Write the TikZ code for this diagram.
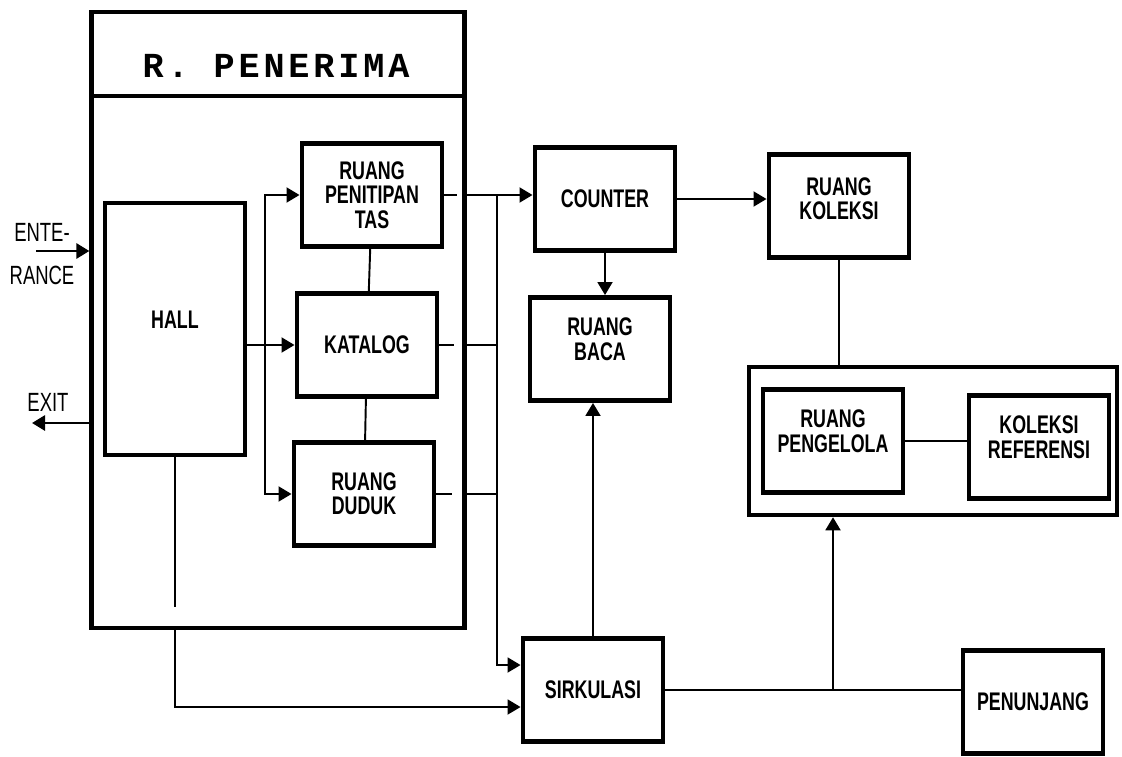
\documentclass[tikz,border=0pt]{standalone}
\usepackage{fontspec}
\usepackage{tikz}
\usetikzlibrary{arrows.meta, calc}

\newfontfamily\boxfont[FakeStretch=0.7]{Liberation Sans}
\newfontfamily\titlefont[LetterSpace=11]{Liberation Mono}

\begin{document}
\begin{tikzpicture}[
    x=0.2mm, y=-0.2mm,
    every node/.style={font=\boxfont\fontsize{15}{14}\selectfont},
    box/.style={rectangle, draw, line width=2.8pt, align=center, inner sep=0pt,
                minimum width=2.8cm, minimum height=2.06cm,
                font=\boxfont\bfseries\fontsize{14.5}{13.8}\selectfont},
    wall/.style={rectangle, draw, line width=2.4pt, minimum width=7.46cm, minimum height=12.32cm},
    link/.style={line width=1.1pt},
    arr/.style={line width=1.1pt, -{Triangle[length=0.26cm, width=0.3cm]}},
    gate/.style={line width=1.6pt, -{Triangle[length=0.26cm, width=0.3cm]}}
]
\useasboundingbox (0,0) rectangle (1122,756);

\node[wall] (penerima) at (278, 320) {};
\draw[line width=2.4pt] (penerima.west |- 0,96) -- (penerima.east |- 0,96);
\node[font=\titlefont\bfseries\fontsize{20}{20}\selectfont] (judul) at (276, 66) {R. PENERIMA};

\node[box, minimum height=5.04cm, text depth=0.36cm] (hall) at (175, 329) {HALL};
\node[box] (titip)   at (372, 195) {RUANG\\PENITIPAN\\TAS};
\node[box] (katalog) at (367, 345) {KATALOG};
\node[box] (duduk)   at (364, 494) {RUANG\\DUDUK};

\node[box] (counter)   at (605, 199) {COUNTER};
\node[box, text depth=0.4cm] (baca) at (600, 349) {RUANG\\BACA};
\node[box] (sirkulasi) at (593, 690) {SIRKULASI};
\node[box, text depth=0.3cm] (koleksi) at (839, 206) {RUANG\\KOLEKSI};

\node[box, line width=2.6pt, minimum width=7.36cm, minimum height=2.96cm] (kelompok) at (933, 441) {};
\node[box, text depth=0.4cm] (kelola)    at (833, 441) {RUANG\\PENGELOLA};
\node[box, text depth=0.4cm] (referensi) at (1039, 447) {KOLEKSI\\REFERENSI};
\node[box] (penunjang) at (1033, 702) {PENUNJANG};

\node (ente)  at (42, 232) {ENTE-};
\node (rance) at (42, 275) {RANCE};
\node (exit)  at (48, 402) {EXIT};
\coordinate (masuk)  at (36, 251);
\coordinate (keluar) at (32, 423);
\coordinate (cabang) at (265, 345);
\coordinate (bus)    at (497, 195);

\draw[gate] (masuk) -- (penerima.west |- masuk);
\draw[gate] (penerima.west |- keluar) -- (keluar);

\draw[arr] (hall.east |- katalog) -- (katalog);
\draw[arr] (cabang) |- (titip);
\draw[arr] (cabang) |- (duduk);
\draw[link] (titip) -- (katalog);
\draw[link] (katalog) -- (duduk);

\draw[link] (titip.east) -- ++(13, 0);
\draw[link] (katalog.east) -- ++(15, 0);
\draw[link] (duduk.east) -- ++(16, 0);
\draw[arr] (penerima.east |- titip) -- (titip -| counter.west);
\draw[link] (penerima.east |- katalog) -- (bus |- katalog);
\draw[link] (penerima.east |- duduk) -- (bus |- duduk);
\draw[arr] (bus) |- ([yshift=0.5cm]sirkulasi.west);

\draw[link] (hall.south) -- ([yshift=0.46cm]hall.south |- penerima.south);
\draw[arr] (hall.south |- penerima.south) |- ([yshift=-0.34cm]sirkulasi.west);

\draw[arr] (counter) -- (counter -| koleksi.west);
\draw[arr] (counter.south) -- (counter.south |- baca.north);
\draw[arr] (sirkulasi.north) -- (sirkulasi.north |- baca.south);
\draw[link] (koleksi.south) -- (koleksi.south |- kelompok.north);
\draw[link] (kelola) -- (kelola -| referensi.west);
\draw[link] (sirkulasi) -- (sirkulasi -| penunjang.west);
\draw[arr] (sirkulasi -| kelola) -- (kelola |- kelompok.south);
\end{tikzpicture}
\end{document}
